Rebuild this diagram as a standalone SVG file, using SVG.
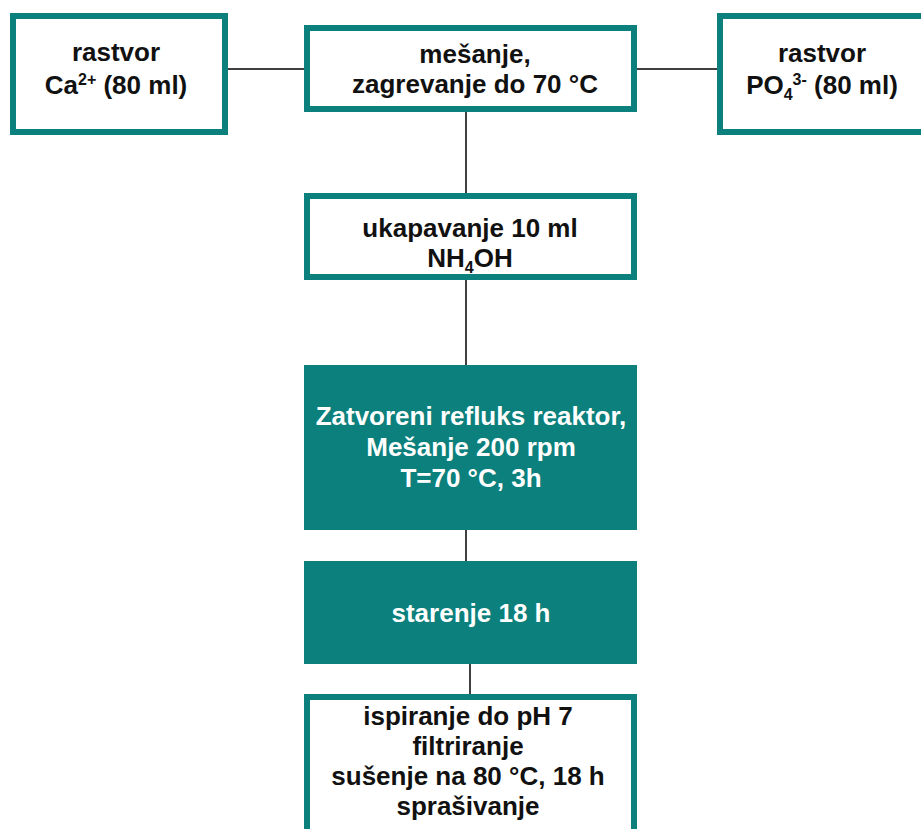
<svg xmlns="http://www.w3.org/2000/svg" width="921" height="829" viewBox="0 0 921 829">
<style>
.ob{fill:#ffffff;stroke:#0b807c;stroke-width:6}
.fb{fill:#0b807c;stroke:none}
.t{font-family:"Liberation Sans",Arial,sans-serif;font-weight:bold;font-size:26px;text-anchor:middle;fill:#111111}
.w{fill:#ffffff}
.sm{font-size:16px}
.c{stroke:#000000;stroke-width:1.5;fill:none}
</style>
<rect width="921" height="829" fill="#ffffff"/>
<g id="connectors">
<line class="c" x1="228" y1="69" x2="304" y2="69"/>
<line class="c" x1="637" y1="69" x2="717" y2="69"/>
<line class="c" x1="466" y1="112" x2="466" y2="193"/>
<line class="c" x1="466" y1="280" x2="466" y2="365"/>
<line class="c" x1="466" y1="530" x2="466" y2="561"/>
<line class="c" x1="470" y1="664" x2="470" y2="694"/>
</g>
<g id="node-ca">
<rect class="ob" x="13" y="16" width="212" height="116"/>
<text class="t" x="116" y="61">rastvor</text>
<text class="t" x="116" y="94">Ca<tspan class="sm" dy="-9">2+</tspan><tspan dy="9"> (80 ml)</tspan></text>
</g>
<g id="node-mesanje">
<rect class="ob" x="307" y="28" width="327" height="81"/>
<text class="t" x="475" y="63">mešanje,</text>
<text class="t" x="475" y="93">zagrevanje do 70 °C</text>
</g>
<g id="node-po4">
<rect class="ob" x="720" y="16" width="212" height="116"/>
<text class="t" x="822" y="62">rastvor</text>
<text class="t" x="822" y="94">PO<tspan class="sm" dy="6">4</tspan><tspan class="sm" dy="-15">3-</tspan><tspan dy="9"> (80 ml)</tspan></text>
</g>
<g id="node-ukapavanje">
<rect class="ob" x="307" y="196" width="327" height="81"/>
<text class="t" x="470" y="237">ukapavanje 10 ml</text>
<text class="t" x="470" y="267">NH<tspan class="sm" dy="6">4</tspan><tspan dy="-6">OH</tspan></text>
</g>
<g id="node-reaktor">
<rect class="fb" x="304" y="365" width="333" height="165"/>
<text class="t w" x="471" y="425">Zatvoreni refluks reaktor,</text>
<text class="t w" x="471" y="456">Mešanje 200 rpm</text>
<text class="t w" x="471" y="487">T=70 °C, 3h</text>
</g>
<g id="node-starenje">
<rect class="fb" x="304" y="561" width="333" height="103"/>
<text class="t w" x="471" y="622">starenje 18 h</text>
</g>
<g id="node-ispiranje">
<rect class="ob" x="307" y="697" width="327" height="150"/>
<text class="t" x="468" y="725">ispiranje do pH 7</text>
<text class="t" x="468" y="755">filtriranje</text>
<text class="t" x="468" y="785">sušenje na 80 °C, 18 h</text>
<text class="t" x="468" y="815">sprašivanje</text>
</g>
</svg>
